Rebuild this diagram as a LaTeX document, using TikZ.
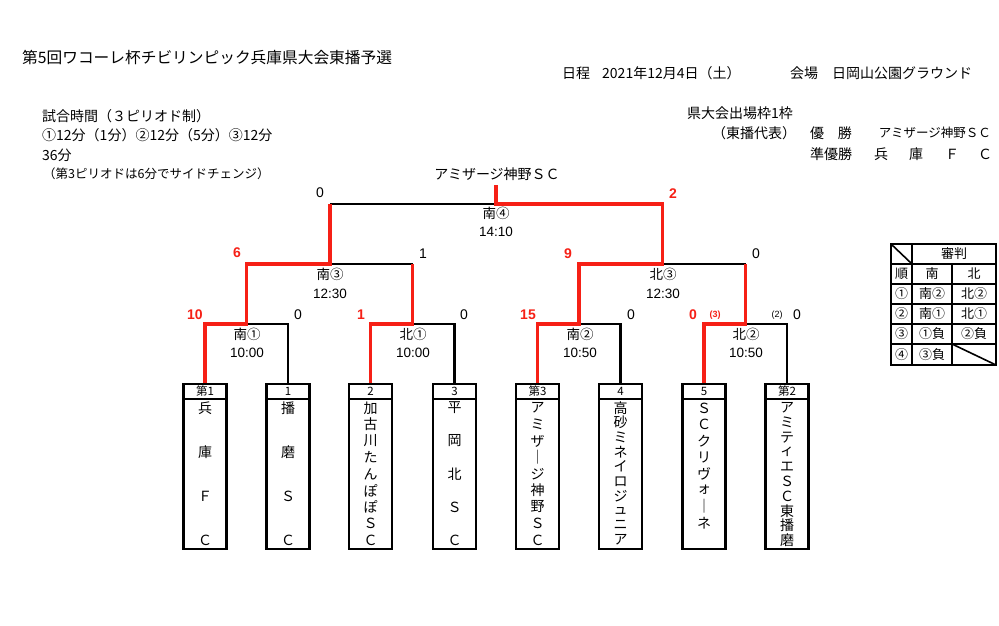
\documentclass[tikz,border=0pt]{standalone}
\usepackage{fontspec}
\setmainfont{Noto Sans CJK JP}
\newfontfamily\lat{Liberation Sans}
\definecolor{wred}{RGB}{246,32,22}
\tikzset{
  txt/.style={inner sep=0pt, font=\fontsize{14}{16}\selectfont},
  ttl/.style={inner sep=0pt, font=\fontsize{15.7}{18}\selectfont},
  sml/.style={inner sep=0pt, font=\fontsize{12.5}{14}\selectfont},
  lab/.style={inner sep=0pt, font=\fontsize{13.5}{15}\selectfont},
  tim/.style={inner sep=0pt, font=\lat\fontsize{13.5}{15}\selectfont},
  scb/.style={inner sep=0pt, font=\lat\fontsize{14}{15}\selectfont},
  scr/.style={inner sep=0pt, text=wred, font=\lat\bfseries\fontsize{14}{15}\selectfont},
  pbk/.style={inner sep=0pt, font=\lat\fontsize{9}{10}\selectfont},
  prd/.style={inner sep=0pt, text=wred, font=\lat\bfseries\fontsize{9}{10}\selectfont},
  teambox/.style={draw, line width=2.2pt, minimum width=43pt, minimum height=165pt, inner sep=0pt},
  boxhead/.style={draw, line width=2.2pt, minimum width=43pt, minimum height=15pt, inner sep=0pt, font=\fontsize{11.5}{12}\selectfont},
  vchar/.style={inner sep=0pt, font=\fontsize{14}{15}\selectfont},
  bk/.style={line width=2.2pt, black, line join=miter},
  rd/.style={line width=3.8pt, wred, line join=miter},
  tbl/.style={line width=1.6pt, black},
  tc/.style={inner sep=0pt, font=\fontsize{13}{14}\selectfont},
}
\newcommand\vstack[5]{%
  \foreach \c [count=\i] in {#5}{\node[vchar] (#1-\i) at (#2,{#3+(\i-1)*#4}) {\c};}}
\begin{document}
\begin{tikzpicture}[x=1pt,y=-1pt]
\useasboundingbox[fill=white] (0,0) rectangle (999,626);
% ---- header texts
\node[ttl, anchor=west] (title) at (22,58) {第5回ワコーレ杯チビリンピック兵庫県大会東播予選};
\node[txt, anchor=west] (nittei) at (562,73) {日程};
\node[txt, anchor=west] (date) at (602,73) {2021年12月4日（土）};
\node[txt, anchor=west] (kaijo) at (790,73) {会場　日岡山公園グラウンド};
\node[txt, anchor=west] (l1) at (42,116) {試合時間（３ピリオド制）};
\node[txt, anchor=west] (l2) at (42,135) {①12分（1分）②12分（5分）③12分};
\node[txt, anchor=west] (l3) at (42,155) {36分};
\node[sml, anchor=west] (l4) at (43,174) {（第3ピリオドは6分でサイドチェンジ）};
\node[txt, anchor=west] (r1) at (687,113) {県大会出場枠1枠};
\node[txt, anchor=west] (r2) at (712,133) {（東播代表）};
\node[txt, anchor=west] (yu) at (810,133) {優};
\node[txt, anchor=east] (sho) at (852,133) {勝};
\node[sml, anchor=east] (win) at (991,133) {アミザージ神野ＳＣ};
\node[txt, anchor=west] (jun) at (810,154) {準優勝};
\node[txt] (ru1) at (881,154) {兵};
\node[txt] (ru2) at (916,154) {庫};
\node[txt] (ru3) at (952,154) {Ｆ};
\node[txt] (ru4) at (985,154) {Ｃ};
% ---- team boxes
\foreach \n/\x/\h in {1/205/第1, 2/288/1, 3/370.5/2, 4/454.5/3, 5/537.5/第3, 6/620.5/4, 7/704/5, 8/787/第2}{
  \node[teambox] (b\n) at (\x,466.5) {};
  \node[boxhead, anchor=north] (h\n) at (b\n.north) {\h};
}
\vstack{t1}{205}{408}{44}{兵,庫,Ｆ,Ｃ}
\vstack{t2}{288}{408}{44}{播,磨,Ｓ,Ｃ}
\vstack{t3}{370.5}{408}{16.5}{加,古,川,た,ん,ぽ,ぽ,Ｓ,Ｃ}
\vstack{t4}{454.5}{408}{33}{平,岡,北,Ｓ,Ｃ}
\vstack{t5}{537.5}{408}{16.5}{ア,ミ,ザ,｜,ジ,神,野,Ｓ,Ｃ}
\vstack{t6}{620.5}{408}{14.67}{高,砂,ミ,ネ,イ,ロ,ジ,ュ,ニ,ア}
\vstack{t7}{704}{408}{16.4}{Ｓ,Ｃ,ク,リ,ヴ,ォ,｜,ネ}
\vstack{t8}{787}{408}{14.67}{ア,ミ,テ,ィ,エ,Ｓ,Ｃ,東,播,磨}
% ---- bracket junctions
\coordinate (m1) at (246.5,324);
\coordinate (m2) at (412.5,324);
\coordinate (m3) at (579,324);
\coordinate (m4) at (745.5,324);
\coordinate (s1) at (330,264);
\coordinate (s2) at (662.5,264);
\coordinate (fn) at (496,204);
\coordinate (ch) at (496,185);
% black lines
\draw[bk] (b2.north) |- (m1);
\draw[bk] (b4.north) |- (m2);
\draw[bk] (b6.north) |- (m3);
\draw[bk] (b8.north) |- (m4);
\draw[bk] (s1) -- (m2 |- s1);
\draw[bk] (s2) -- (m4 |- s2);
\draw[bk] (s1 |- fn) -- (fn);
% red lines
\draw[rd] (b1.north) |- (m1) -- (m1 |- s1) -- (s1) -- (s1 |- fn);
\draw[rd] (b3.north) |- (m2) -- (m2 |- s1);
\draw[rd] (b5.north) |- (m3) -- (m3 |- s2) -- (s2) -- (s2 |- fn) -- (fn) -- (ch);
\draw[rd] (b7.north) |- (m4) -- (m4 |- s2);
% champion
\node[txt] (champ) at (497,174) {アミザージ神野ＳＣ};
% ---- scores
\node[scb] (f0) at (320,193) {0};
\node[scr] (f2) at (673,194) {2};
\node[scr] (sa) at (237,253) {6};
\node[scb] (sb) at (423,254) {1};
\node[scr] (sc) at (568,254) {9};
\node[scb] (sd) at (756,254) {0};
\node[scr] (q1) at (195,315) {10};
\node[scb] (q2) at (298,315) {0};
\node[scr] (q3) at (361,315) {1};
\node[scb] (q4) at (464,315) {0};
\node[scr] (q5) at (528,315) {15};
\node[scb] (q6) at (631,315) {0};
\node[scr] (q7) at (693,315) {0};
\node[prd] (pk7) at (715,315) {(3)};
\node[pbk] (pk8) at (777,315) {(2)};
\node[scb] (q8) at (797,315) {0};
% ---- match labels
\node[lab] (g4) at (496,213) {南④};
\node[tim] (g4t) at (496,232) {14:10};
\node[lab] (g3s) at (330,274) {南③};
\node[tim] (g3st) at (330,294) {12:30};
\node[lab] (g3n) at (663,274) {北③};
\node[tim] (g3nt) at (663,294) {12:30};
\node[lab] (g1s) at (247,334) {南①};
\node[tim] (g1st) at (247,353) {10:00};
\node[lab] (g1n) at (413,334) {北①};
\node[tim] (g1nt) at (413,353) {10:00};
\node[lab] (g2s) at (580,334) {南②};
\node[tim] (g2st) at (580,353) {10:50};
\node[lab] (g2n) at (746,334) {北②};
\node[tim] (g2nt) at (746,353) {10:50};
% ---- referee table
\draw[tbl] (891,244) rectangle (996,365);
\foreach \yy in {264,284,304,324,344}{\draw[tbl] (891,\yy) -- (996,\yy);}
\draw[tbl] (912,244) -- (912,365);
\draw[tbl] (952,264) -- (952,365);
\draw[tbl] (891,244) -- (912,264);
\draw[tbl] (952,344) -- (996,365);
\node[tc] (shinpan) at (954,254) {審判};
\foreach \r/\yy/\a/\b/\c in {1/274/順/南/北, 2/294/①/南②/北②, 3/314/②/南①/北①, 4/334/③/①負/②負}{
  \node[tc] (ta\r) at (901.5,\yy) {\a};
  \node[tc] (tb\r) at (932,\yy) {\b};
  \node[tc] (tcc\r) at (974,\yy) {\c};
}
\node[tc] (ta5) at (901.5,355) {④};
\node[tc] (tb5) at (932,355) {③負};
\end{tikzpicture}
\end{document}
